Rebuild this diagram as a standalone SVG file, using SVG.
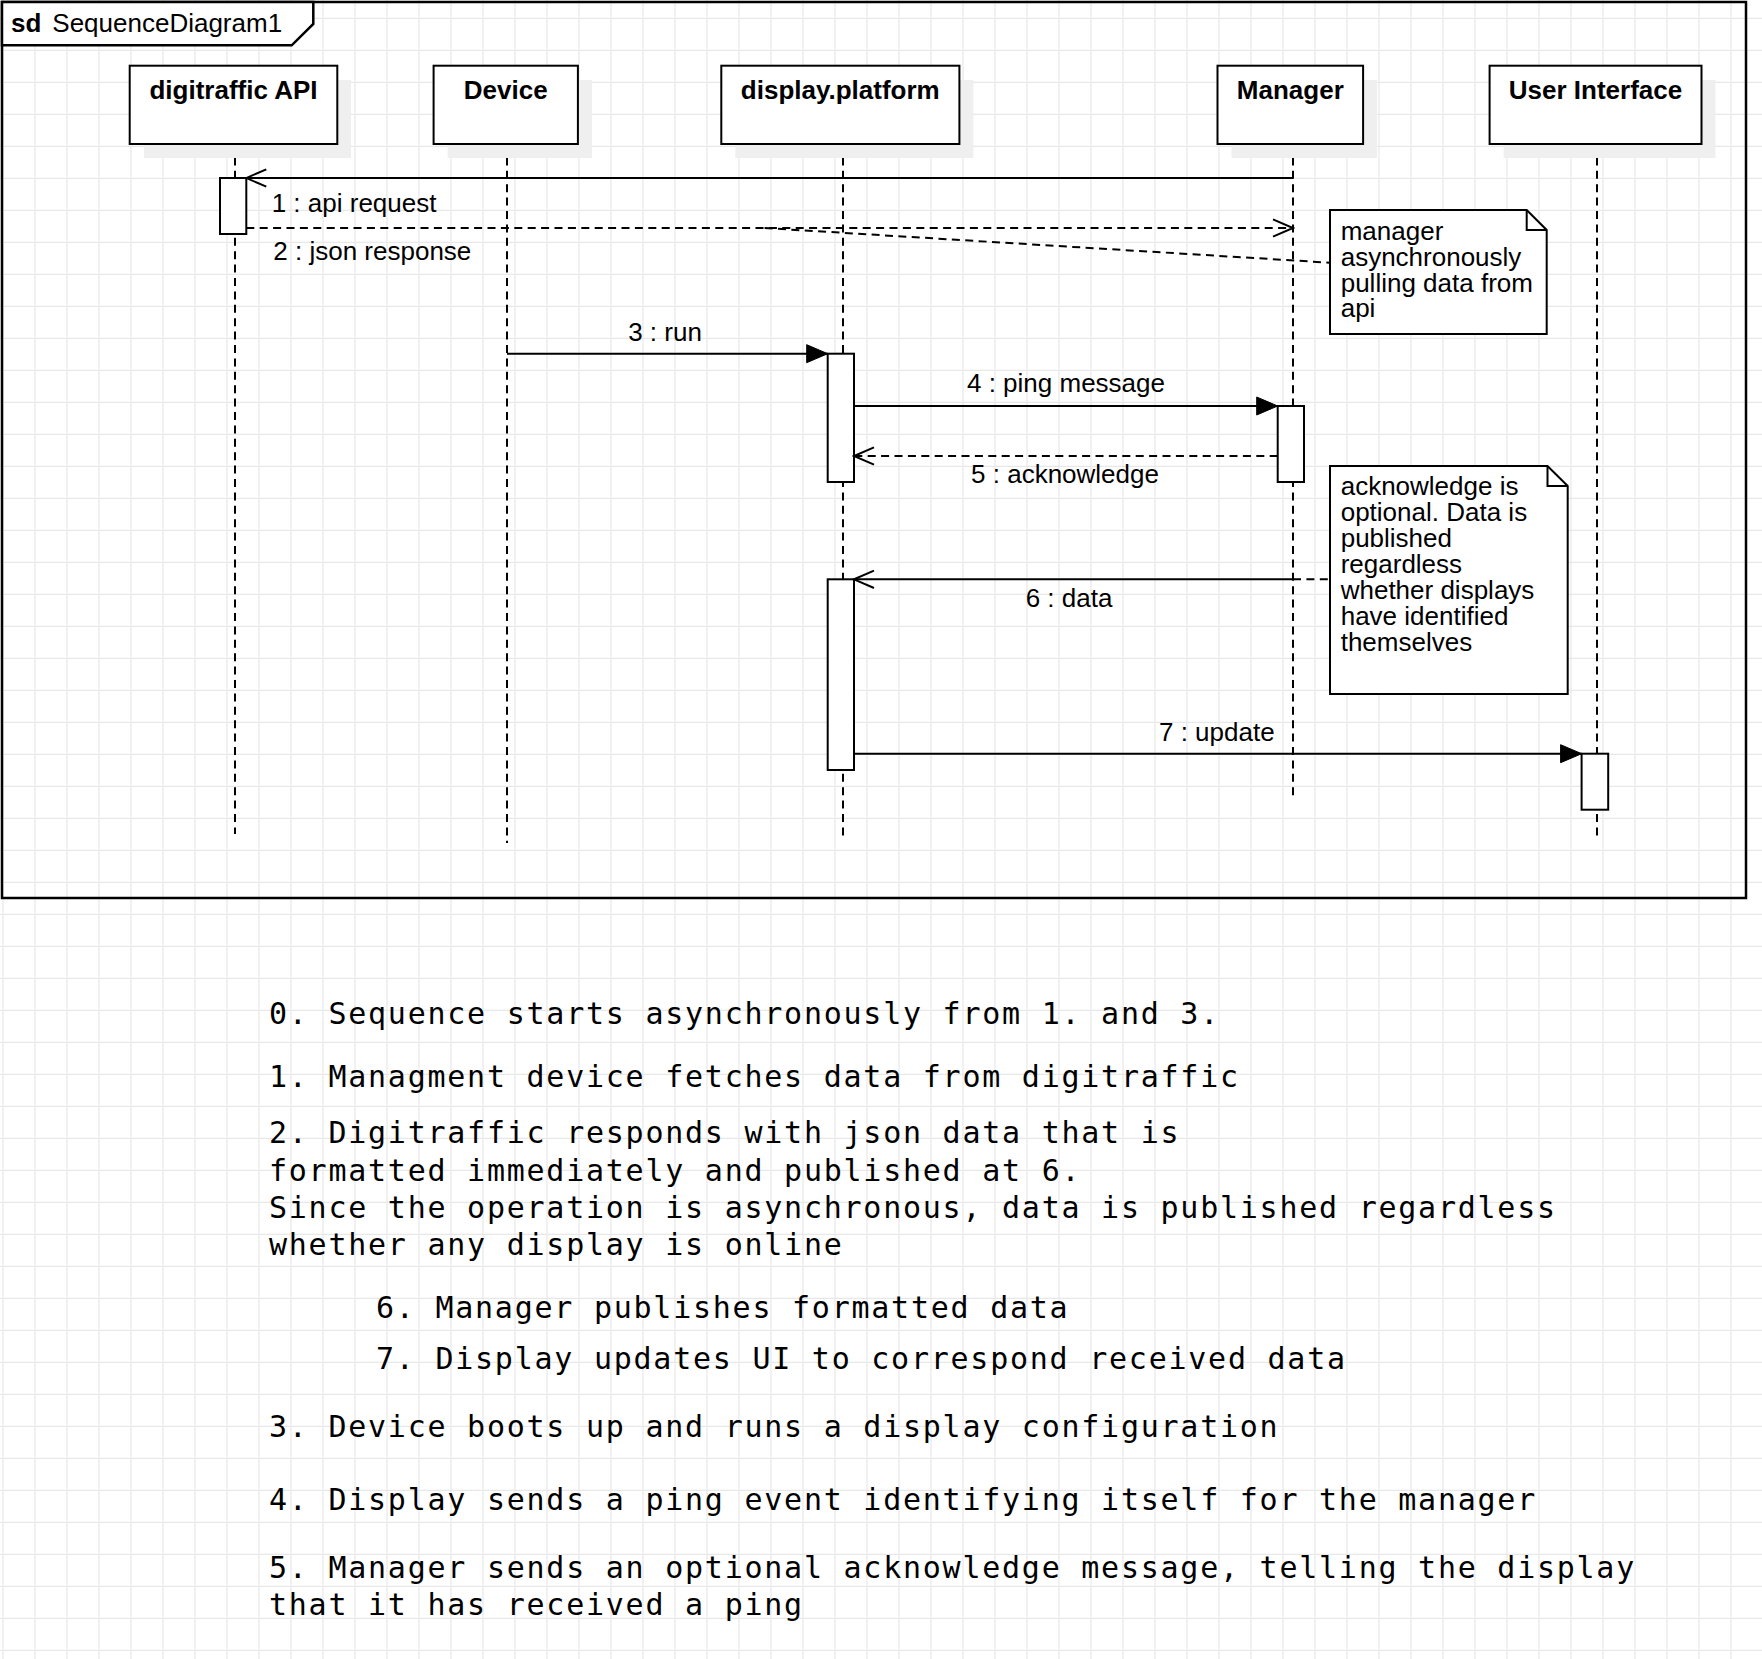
<svg xmlns="http://www.w3.org/2000/svg" width="1762" height="1659" viewBox="0 0 1762 1659">
<style>
  .box{fill:#fff;stroke:#000;stroke-width:2}
  .shadow{fill:#efefef}
  .life{fill:none;stroke:#000;stroke-width:2;stroke-dasharray:8 5.4}
  .act{fill:#fff;stroke:#000;stroke-width:2}
  .msg{fill:none;stroke:#000;stroke-width:2}
  .dash{stroke-dasharray:8 5.4}
  .hdr{font-family:"Liberation Sans",Arial,sans-serif;font-weight:bold;font-size:26px;text-anchor:middle;fill:#000}
  .lbl{font-family:"Liberation Sans",Arial,sans-serif;font-size:26px;fill:#000}
  .mid{text-anchor:middle}
  .mono{font-family:"DejaVu Sans Mono",monospace;font-size:30px;letter-spacing:1.75px;fill:#000}
</style>
<defs>
  <pattern id="grid" patternUnits="userSpaceOnUse" x="0" y="0" width="32" height="32">
    <path d="M3,0 V32 M0,18.3 H32" stroke="#e8e8e8" stroke-width="1.2" fill="none"/>
  </pattern>
  <marker id="open" markerUnits="userSpaceOnUse" viewBox="-22 -11 24 22" refX="0" refY="0" markerWidth="24" markerHeight="22" orient="auto">
    <path d="M-20,-8.7 L0,0 L-20,8.7" fill="none" stroke="#000" stroke-width="2"/>
  </marker>
  <marker id="filled" markerUnits="userSpaceOnUse" viewBox="-22 -11 24 22" refX="0" refY="0" markerWidth="24" markerHeight="22" orient="auto">
    <path d="M0,0 L-21,-9 L-21,9 Z" fill="#000" stroke="#000" stroke-width="1"/>
  </marker>
</defs>

<rect x="0" y="0" width="1762" height="1659" fill="#fff"/>
<rect x="0" y="0" width="1762" height="1659" fill="url(#grid)"/>

<g id="frame">
  <rect x="2" y="2" width="1744" height="896" fill="none" stroke="#000" stroke-width="2.5"/>
  <path d="M2,2 H313.3 V24 L291.7,45.3 H2 Z" fill="#fff" stroke="#000" stroke-width="2.5"/>
  <text x="11" y="31.7" class="lbl" font-weight="bold">sd</text>
  <text x="52.3" y="31.7" class="lbl">SequenceDiagram1</text>
</g>

<g id="lifelines">
  <line x1="235" y1="144" x2="235" y2="834" class="life"/>
  <line x1="507" y1="144" x2="507" y2="843" class="life"/>
  <line x1="843" y1="144" x2="843" y2="836" class="life"/>
  <line x1="1293" y1="144" x2="1293" y2="797" class="life"/>
  <line x1="1597" y1="144" x2="1597" y2="836" class="life"/>
</g>

<g id="node-digitraffic">
  <rect x="144" y="80" width="207" height="78" class="shadow"/>
  <rect x="129.7" y="65.7" width="207.6" height="78.3" class="box"/>
  <text x="233.5" y="99" class="hdr">digitraffic API</text>
</g>
<g id="node-device">
  <rect x="447.6" y="80" width="144.3" height="78" class="shadow"/>
  <rect x="433.6" y="65.7" width="144.3" height="78.3" class="box"/>
  <text x="505.7" y="99" class="hdr">Device</text>
</g>
<g id="node-display">
  <rect x="735.3" y="80" width="238.1" height="78" class="shadow"/>
  <rect x="721.3" y="65.7" width="238.1" height="78.3" class="box"/>
  <text x="840.3" y="99" class="hdr">display.platform</text>
</g>
<g id="node-manager">
  <rect x="1231.5" y="80" width="145.6" height="78" class="shadow"/>
  <rect x="1217.5" y="65.7" width="145.6" height="78.3" class="box"/>
  <text x="1290.3" y="99" class="hdr">Manager</text>
</g>
<g id="node-ui">
  <rect x="1503.6" y="80" width="211.9" height="78" class="shadow"/>
  <rect x="1489.6" y="65.7" width="211.9" height="78.3" class="box"/>
  <text x="1595.5" y="99" class="hdr">User Interface</text>
</g>

<g id="activations">
  <rect x="220" y="178" width="26.3" height="56" class="act"/>
  <rect x="827.7" y="353.7" width="26.3" height="128.3" class="act"/>
  <rect x="1277.7" y="406" width="26.3" height="76" class="act"/>
  <rect x="827.7" y="579.3" width="26.3" height="190.7" class="act"/>
  <rect x="1581.6" y="753.7" width="26.6" height="56" class="act"/>
</g>

<g id="connectors">
  <line x1="1293" y1="178" x2="246.3" y2="178" class="msg" marker-end="url(#open)"/>
  <text x="271.7" y="212.3" class="lbl">1 : api request</text>
  <line x1="246.3" y1="228" x2="1293" y2="228" class="msg dash" marker-end="url(#open)"/>
  <text x="273.3" y="260" class="lbl">2 : json response</text>
  <line x1="764.6" y1="228" x2="1330" y2="262.7" class="msg dash"/>

  <line x1="507" y1="353.7" x2="827.7" y2="353.7" class="msg" marker-end="url(#filled)"/>
  <text x="665" y="340.7" class="lbl mid">3 : run</text>
  <line x1="854" y1="406" x2="1277.7" y2="406" class="msg" marker-end="url(#filled)"/>
  <text x="1066" y="392.3" class="lbl mid">4 : ping message</text>
  <line x1="1277.7" y1="456" x2="854" y2="456" class="msg dash" marker-end="url(#open)"/>
  <text x="1065" y="482.7" class="lbl mid">5 : acknowledge</text>
  <line x1="1292" y1="579.3" x2="854" y2="579.3" class="msg" marker-end="url(#open)"/>
  <text x="1069" y="606.7" class="lbl mid">6 : data</text>
  <line x1="1293" y1="579.3" x2="1330" y2="579.3" class="msg dash"/>
  <line x1="854" y1="753.7" x2="1581.6" y2="753.7" class="msg" marker-end="url(#filled)"/>
  <text x="1216.8" y="740.7" class="lbl mid">7 : update</text>
</g>

<g id="note-1">
  <path d="M1330,210 H1526.7 L1546.7,230 V334 H1330 Z" class="box"/>
  <path d="M1526.7,210 V230 H1546.7" fill="none" stroke="#000" stroke-width="2"/>
  <text class="lbl" x="1340.7" y="240">
    <tspan x="1340.7" y="240">manager</tspan>
    <tspan x="1340.7" y="265.8">asynchronously</tspan>
    <tspan x="1340.7" y="291.6">pulling data from</tspan>
    <tspan x="1340.7" y="317.2">api</tspan>
  </text>
</g>

<g id="note-2">
  <path d="M1330,466 H1547.5 L1567.7,486 V694 H1330 Z" class="box"/>
  <path d="M1547.5,466 V486 H1567.7" fill="none" stroke="#000" stroke-width="2"/>
  <text class="lbl" x="1340.7" y="495">
    <tspan x="1340.7" y="495">acknowledge is</tspan>
    <tspan x="1340.7" y="521">optional. Data is</tspan>
    <tspan x="1340.7" y="547">published</tspan>
    <tspan x="1340.7" y="573">regardless</tspan>
    <tspan x="1340.7" y="599">whether displays</tspan>
    <tspan x="1340.7" y="625">have identified</tspan>
    <tspan x="1340.7" y="651">themselves</tspan>
  </text>
</g>

<g id="description">
  <text class="mono" x="269" y="1023.5">0. Sequence starts asynchronously from 1. and 3.</text>
  <text class="mono" x="269" y="1086.7">1. Managment device fetches data from digitraffic</text>
  <text class="mono" x="269" y="1143.3">2. Digitraffic responds with json data that is</text>
  <text class="mono" x="269" y="1180.7">formatted immediately and published at 6.</text>
  <text class="mono" x="269" y="1217.7">Since the operation is asynchronous, data is published regardless</text>
  <text class="mono" x="269" y="1255">whether any display is online</text>
  <text class="mono" x="376" y="1318.3">6. Manager publishes formatted data</text>
  <text class="mono" x="376" y="1369">7. Display updates UI to correspond received data</text>
  <text class="mono" x="269" y="1436.7">3. Device boots up and runs a display configuration</text>
  <text class="mono" x="269" y="1510">4. Display sends a ping event identifying itself for the manager</text>
  <text class="mono" x="269" y="1578.3">5. Manager sends an optional acknowledge message, telling the display</text>
  <text class="mono" x="269" y="1615">that it has received a ping</text>
</g>
</svg>
